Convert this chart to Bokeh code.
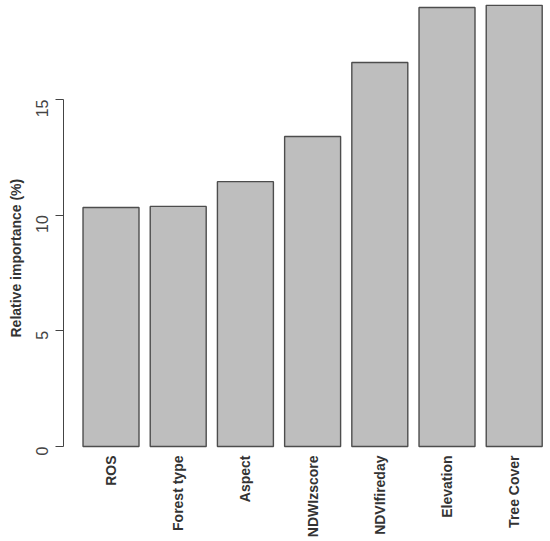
import math
from bokeh.plotting import figure
from bokeh.models import Range1d, FixedTicker, Title
from bokeh.embed import file_html
from bokeh.resources import INLINE

categories = ["ROS", "Forest type", "Aspect", "NDWIzscore", "NDVIfireday", "Elevation", "Tree Cover"]
importance = [10.33, 10.38, 11.45, 13.40, 16.60, 18.98, 19.07]
y_ticks = [0, 5, 10, 15]
y_title = "Relative importance  (%)"

xs = list(range(len(categories)))

p = figure(width=550, height=541, output_backend="svg", toolbar_location=None,
           x_range=Range1d(-0.707, 6.54), y_range=Range1d(-0.086, 19.28),
           min_border_left=63, min_border_right=0, min_border_top=0, min_border_bottom=93)
p.outline_line_color = None
p.background_fill_color = "white"
p.border_fill_color = "white"
p.grid.visible = False

p.vbar(x=xs, top=importance, bottom=0, width=0.833,
       fill_color="#bebebe", line_color="#4d4d4d", line_width=1.4)

# y axis
ya = p.yaxis[0]
ya.ticker = FixedTicker(ticks=y_ticks)
ya.bounds = (0, 15)
ya.axis_line_color = "#444444"
ya.major_tick_line_color = "#444444"
ya.major_tick_out = 8
ya.major_tick_in = 0
ya.minor_tick_out = 0
ya.minor_tick_in = 0
ya.major_label_orientation = math.pi / 2
ya.major_label_standoff = 13
ya.major_label_text_font = "Liberation Sans"
ya.major_label_text_font_size = "16px"
ya.major_label_text_color = "#444444"

p.add_layout(Title(text=y_title, align="left", offset=111, standoff=8,
                   text_font="Liberation Sans", text_font_style="bold",
                   text_font_size="14px", text_color="#333333"), "left")

# x axis
xa = p.xaxis[0]
xa.ticker = FixedTicker(ticks=xs)
xa.major_label_overrides = {i: c for i, c in zip(xs, categories)}
xa.axis_line_color = None
xa.major_tick_line_color = None
xa.minor_tick_line_color = None
xa.major_tick_out = 0
xa.major_tick_in = 0
xa.major_label_orientation = math.pi / 2
xa.major_label_standoff = 7
xa.major_label_text_font = "Liberation Sans"
xa.major_label_text_font_style = "bold"
xa.major_label_text_font_size = "14px"
xa.major_label_text_color = "#333333"

open("out.html", "w").write(file_html(p, INLINE))
